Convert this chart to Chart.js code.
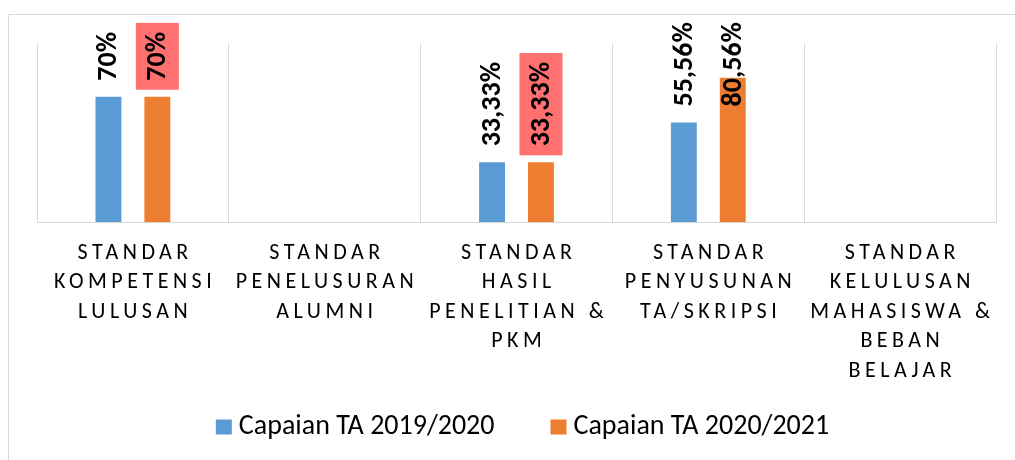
<!DOCTYPE html>
<html lang="id">
<head>
    <meta charset="UTF-8">
    <title>Capaian Standar</title>
    <script src="https://cdn.jsdelivr.net/npm/chart.js"></script>
    <style>
        html, body {
            margin: 0;
            padding: 0;
            background: #ffffff;
            overflow: hidden;
            width: 1015px;
            height: 460px;
        }
        .frame {
            position: absolute;
            left: 8px;
            top: 14px;
            width: 1032px;
            height: 460px;
            border: 1px solid #d9d9d9;
        }
        .chart-box {
            position: relative;
            width: 1032px;
            height: 445px;
        }
    </style>
</head>
<body>
    <div class="frame">
        <div class="chart-box">
            <canvas id="capaianChart"></canvas>
        </div>
    </div>

    <script>
        // Kategori (baris per baris, seperti di sumbu X)
        const categories = [
            ['STANDAR', 'KOMPETENSI', 'LULUSAN'],
            ['STANDAR', 'PENELUSURAN', 'ALUMNI'],
            ['STANDAR', 'HASIL', 'PENELITIAN &', 'PKM'],
            ['STANDAR', 'PENYUSUNAN', 'TA/SKRIPSI'],
            ['STANDAR', 'KELULUSAN', 'MAHASISWA &', 'BEBAN', 'BELAJAR']
        ];
        const seriesNames = ['Capaian TA 2019/2020', 'Capaian TA 2020/2021'];
        const capaian2019 = [70, null, 33.33, 55.56, null];
        const capaian2020 = [70, null, 33.33, 80.56, null];

        // Warna label yang disorot (hanya beberapa titik seri kedua)
        const labelHighlight = [
            [null, null, null, null, null],
            ['#ff7171', null, '#ff7171', null, null]
        ];

        const FONT = "Carlito, Calibri, Lato, 'Open Sans', sans-serif";

        function formatPct(v) {
            return String(v).replace('.', ',') + '%';
        }

        // Label data vertikal di atas batang
        const barLabels = {
            id: 'barLabels',
            afterDatasetsDraw(chart) {
                const ctx = chart.ctx;
                ctx.save();
                ctx.font = 'bold 28px ' + FONT;
                ctx.fillStyle = '#000';
                ctx.textAlign = 'left';
                ctx.textBaseline = 'middle';
                chart.data.datasets.forEach((ds, i) => {
                    const meta = chart.getDatasetMeta(i);
                    ds.data.forEach((v, j) => {
                        if (v === null) return;
                        const bar = meta.data[j];
                        const text = formatPct(v);
                        const w = ctx.measureText(text).width;
                        let bottom = bar.y - 16;
                        if (bottom - w < 7) bottom = 7 + w;
                        const hl = labelHighlight[i][j];
                        if (hl) {
                            ctx.fillStyle = hl;
                            ctx.fillRect(bar.x - 21.5, bottom - w - 9, 43, w + 18);
                            ctx.fillStyle = '#000';
                        }
                        ctx.save();
                        ctx.translate(bar.x + 1, bottom);
                        ctx.rotate(-Math.PI / 2);
                        ctx.fillText(text, 0, 0);
                        ctx.restore();
                    });
                });
                ctx.restore();
            }
        };

        // Label kategori dengan jarak huruf lebar + legenda di bawah
        const categoryLabels = {
            id: 'categoryLabels',
            afterDraw(chart) {
                const ctx = chart.ctx;
                const xs = chart.scales.x;
                const spacing = 4.5;
                ctx.save();
                ctx.font = '22px ' + FONT;
                ctx.letterSpacing = spacing + 'px';
                ctx.fillStyle = '#000';
                ctx.textAlign = 'center';
                ctx.textBaseline = 'middle';
                categories.forEach((lines, i) => {
                    const x = xs.getPixelForValue(i) + spacing / 2;
                    lines.forEach((line, k) => {
                        ctx.fillText(line, x, chart.chartArea.bottom + 31 + k * 29.5);
                    });
                });
                ctx.restore();

                // legenda
                ctx.save();
                ctx.font = '28px ' + FONT;
                ctx.textBaseline = 'middle';
                ctx.textAlign = 'left';
                const box = 16, gap = 7, itemGap = 56;
                const items = chart.data.datasets.map(ds => ({
                    text: ds.label,
                    color: ds.backgroundColor,
                    w: box + gap + ctx.measureText(ds.label).width
                }));
                const total = items.reduce((s, it) => s + it.w, 0) + itemGap * (items.length - 1);
                let x = 513.5 - total / 2;
                const cy = 412;
                items.forEach(it => {
                    ctx.fillStyle = it.color;
                    ctx.fillRect(x, cy - 7.5, box, 15);
                    ctx.fillStyle = '#000';
                    ctx.fillText(it.text, x + box + gap, cy);
                    x += it.w + itemGap;
                });
                ctx.restore();
            }
        };

        new Chart(document.getElementById('capaianChart'), {
            type: 'bar',
            data: {
                labels: categories.map(c => c.join(' ')),
                datasets: [
                    {
                        label: seriesNames[0],
                        data: capaian2019,
                        backgroundColor: '#5b9bd5',
                        categoryPercentage: 0.51,
                        barPercentage: 0.53
                    },
                    {
                        label: seriesNames[1],
                        data: capaian2020,
                        backgroundColor: '#ed7d31',
                        categoryPercentage: 0.51,
                        barPercentage: 0.53
                    }
                ]
            },
            options: {
                responsive: true,
                maintainAspectRatio: false,
                animation: false,
                layout: {
                    padding: { left: 28, right: 45, top: 28, bottom: 57 }
                },
                scales: {
                    x: {
                        grid: { color: '#d9d9d9', drawTicks: false, offset: true },
                        border: { color: '#d9d9d9' },
                        ticks: { display: false },
                        afterFit(scale) { scale.height = 181; }
                    },
                    y: {
                        display: false,
                        min: 0,
                        max: 100
                    }
                },
                plugins: {
                    legend: { display: false },
                    tooltip: { enabled: false }
                }
            },
            plugins: [barLabels, categoryLabels]
        });
    </script>
</body>
</html>
